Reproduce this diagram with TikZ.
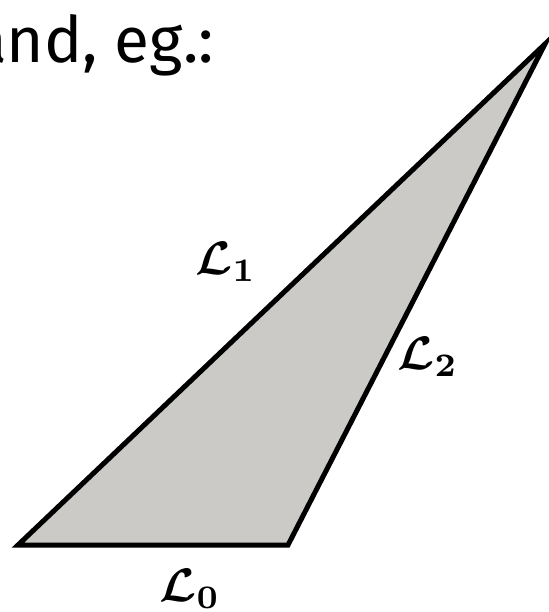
\documentclass[tikz,border=0pt]{standalone}
\usepackage{amsmath,amssymb,bm}
\usepackage{fontspec}
\setmainfont{Fira Sans}
\usetikzlibrary{calc,positioning}
\definecolor{facegrey}{RGB}{203,202,198}
\newcommand{\bigL}[1]{\scalebox{4.7}{$\mathcal{L}_{#1}$}}
\tikzset{edgelbl/.style={font=\boldmath,inner sep=0pt},
  face/.style={draw=black,line width=5pt,line join=miter,fill=facegrey}}
\begin{document}
\begin{tikzpicture}[x=1pt,y=-1pt]
\useasboundingbox (0,0) rectangle (548,612);
\node[anchor=base east,inner sep=0pt,font=\fontsize{64}{70}\selectfont] (txt) at (214,63) {and, eg.:};
\coordinate (A) at (18,545);
\coordinate (B) at (288,545);
\coordinate (C) at (545,44);
\draw[face] (A)--(B)--(C)--cycle;
\node[edgelbl] (l1) at (226,262) {\bigL{1}};
\node[edgelbl] (l2) at (428,357) {\bigL{2}};
\node[edgelbl] (l0) at (190,589) {\bigL{0}};
\end{tikzpicture}
\end{document}
